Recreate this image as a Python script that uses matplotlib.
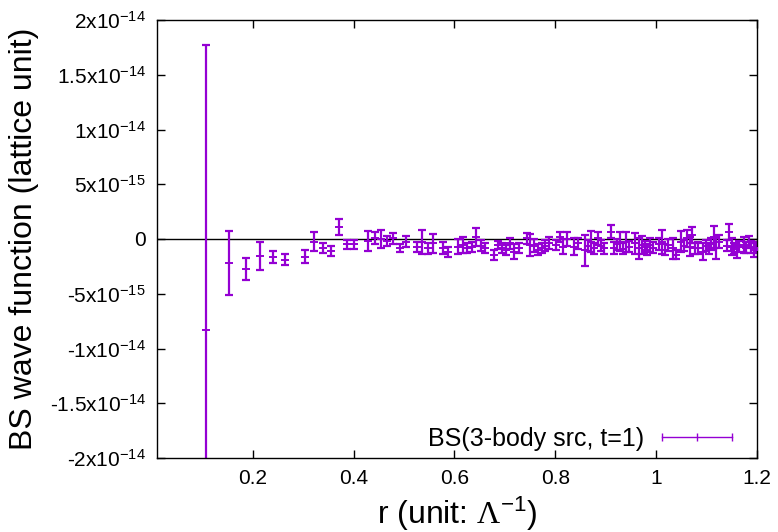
import math
import matplotlib
matplotlib.use("Agg")
import matplotlib.pyplot as plt
from matplotlib.lines import Line2D
from matplotlib.legend_handler import HandlerBase
from matplotlib.ticker import FuncFormatter, FixedLocator

plt.rcParams['font.family'] = ['Liberation Sans', 'DejaVu Sans']
plt.rcParams['mathtext.fontset'] = 'custom'
plt.rcParams['mathtext.rm'] = 'Liberation Sans'
plt.rcParams['mathtext.it'] = 'Liberation Sans'
plt.rcParams['mathtext.sf'] = 'Liberation Serif'
plt.rcParams['mathtext.default'] = 'regular'

# r values (units of Lambda^-1)
r = [0.107, 0.152, 0.186, 0.214, 0.240, 0.263, 0.303, 0.322, 0.339, 0.356,
     0.371, 0.387, 0.401, 0.429, 0.442, 0.455, 0.467, 0.479, 0.491, 0.503,
     0.525, 0.536, 0.547, 0.557, 0.577, 0.587, 0.606, 0.616, 0.625, 0.634,
     0.643, 0.652, 0.661, 0.678, 0.686, 0.695, 0.703, 0.711, 0.719, 0.727,
     0.743, 0.750, 0.758, 0.766, 0.773, 0.780, 0.788, 0.802, 0.809, 0.816,
     0.823, 0.837, 0.844, 0.858, 0.864, 0.871, 0.877, 0.884, 0.890, 0.897,
     0.910, 0.916, 0.922, 0.928, 0.935, 0.941, 0.947, 0.959, 0.965, 0.971,
     0.977, 0.982, 0.988, 0.994, 1.006, 1.011, 1.017, 1.023, 1.034, 1.039,
     1.050, 1.056, 1.061, 1.067, 1.072, 1.077, 1.083, 1.093, 1.098, 1.104,
     1.109, 1.114, 1.119, 1.124, 1.140, 1.145, 1.150, 1.155, 1.160, 1.165,
     1.174, 1.179, 1.184, 1.189, 1.194, 1.199]

# BS wave function values (units of 1e-15)
psi = [-8.3, -2.2, -2.7, -1.55, -1.65, -1.9, -1.6, -0.25, -0.8, -1.1,
       1.1, -0.5, -0.5, -0.2, 0.1, 0.0, -0.2, 0.05, -0.8, -0.25,
       -0.7, -0.3, -0.85, -0.4, -0.8, -1.15, -0.7, -0.55, -0.8, -0.7,
       0.2, -0.6, -0.8, -1.45, -0.55, -0.85, -1.0, -0.4, -1.15, -0.85,
       0.05, -0.55, -0.6, -1.0, -0.8, -0.6, -0.4, -0.55, 0.15, -0.7,
       0.0, -0.7, -0.4, -1.05, -0.6, -0.25, -0.85, 0.05, -0.6, -0.85,
       0.65, -0.85, -0.5, -0.25, -0.9, -0.25, -0.7, -0.4, -0.85, -0.55,
       -0.7, -1.0, -0.55, -0.8, -0.5, -0.25, -1.0, -0.55, -0.85, -1.45,
       -0.25, -0.6, 0.05, -0.7, 0.35, -0.85, -0.8, -1.15, -0.6, -0.85,
       -0.5, 0.15, -0.85, -0.25, -0.6, 0.65, -0.7, -0.9, -1.15, -0.7,
       -0.55, -0.8, -0.25, -0.7, -1.0, -0.8]

# errors (units of 1e-15)
err = [26.0, 2.95, 1.0, 1.3, 0.55, 0.5, 0.6, 0.87, 0.45, 0.45,
       0.77, 0.45, 0.38, 0.9, 0.55, 0.8, 0.45, 0.47, 0.35, 0.5,
       0.45, 1.1, 0.5, 0.85, 0.55, 0.45, 0.7, 0.75, 0.45, 0.45,
       0.85, 0.5, 0.45, 0.45, 0.4, 0.45, 0.45, 0.5, 0.67, 0.45,
       0.5, 1.0, 0.6, 0.5, 0.45, 0.5, 0.55, 0.5, 0.45, 0.7,
       0.6, 0.75, 0.5, 1.4, 0.5, 0.95, 0.5, 0.6, 0.5, 0.5,
       0.6, 0.55, 0.5, 0.85, 0.5, 0.9, 0.5, 0.95, 0.95, 0.85,
       0.5, 0.5, 0.6, 0.5, 0.55, 1.1, 0.5, 0.55, 0.95, 0.4,
       0.95, 0.5, 0.75, 0.85, 0.75, 0.5, 0.55, 0.8, 0.5, 0.5,
       0.55, 1.0, 0.95, 0.6, 0.5, 0.75, 0.8, 0.5, 0.6, 0.5,
       0.75, 0.5, 0.55, 0.55, 0.6, 0.5]

scale = 1e-15
y = [v * scale for v in psi]
yerr = [e * scale for e in err]

xticks = [0.2, 0.4, 0.6, 0.8, 1.0, 1.2]
yticks = [-2e-14, -1.5e-14, -1e-14, -5e-15, 0, 5e-15, 1e-14, 1.5e-14, 2e-14]

color = '#9400D3'

fig = plt.figure(figsize=(7.78, 5.32), dpi=100)
ax = fig.add_axes([157/778, 74/532, 600/778, 438/532])

ax.axhline(0, color='black', lw=1.0, zorder=1)
ax.errorbar(r, y, yerr=yerr, fmt='none', ecolor=color, elinewidth=1.6,
            capsize=2.8, capthick=1.6, zorder=2)
ax.plot(r, y, linestyle='none', marker='_', markersize=5.5, markeredgewidth=1.4,
        color=color, zorder=3)

ax.set_xlim(0.01, 1.2)
ax.set_ylim(-2e-14, 2e-14)
ax.xaxis.set_major_locator(FixedLocator(xticks))
ax.yaxis.set_major_locator(FixedLocator(yticks))
ax.xaxis.set_major_formatter(FuncFormatter(lambda v, p: f"{v:g}"))


def yfmt(v, p):
    if abs(v) < 1e-20:
        return "0"
    sign = "-" if v < 0 else ""
    a = abs(v)
    e = int(math.floor(math.log10(a) + 1e-9))
    m = a / 10**e
    return f"{sign}{m:g}x10$^{{{e}}}$"


ax.yaxis.set_major_formatter(FuncFormatter(yfmt))
ax.tick_params(direction='in', length=6, width=1, top=True, right=True,
               labelsize=15, pad=8)
for s in ax.spines.values():
    s.set_linewidth(1.0)

ax.set_ylabel("BS wave function (lattice unit)", fontsize=23, labelpad=8)
ax.set_xlabel(r"r (unit: $\mathsf{\Lambda}^{-1}$)", fontsize=23, labelpad=5)


class HBarHandler(HandlerBase):
    def create_artists(self, legend, orig_handle, xdescent, ydescent,
                       width, height, fontsize, trans):
        yc = height / 2 - ydescent
        x0 = -xdescent
        x1 = -xdescent + width
        line = Line2D([x0, x1], [yc, yc], color=color, lw=1.0, transform=trans)
        ticks = Line2D([x0, (x0 + x1) / 2, x1], [yc, yc, yc], linestyle='none',
                       marker='|', markersize=6, markeredgewidth=1.0,
                       color=color, transform=trans)
        return [line, ticks]


handle = Line2D([], [], color=color)
ax.legend([handle], ["BS(3-body src, t=1)"], handler_map={Line2D: HBarHandler()},
          loc='center right', bbox_to_anchor=(575/600, 19/438), frameon=False,
          markerfirst=False, fontsize=18, handlelength=2.8, handletextpad=0.7,
          borderpad=0, borderaxespad=0)

fig.savefig("out.png", dpi=100)
